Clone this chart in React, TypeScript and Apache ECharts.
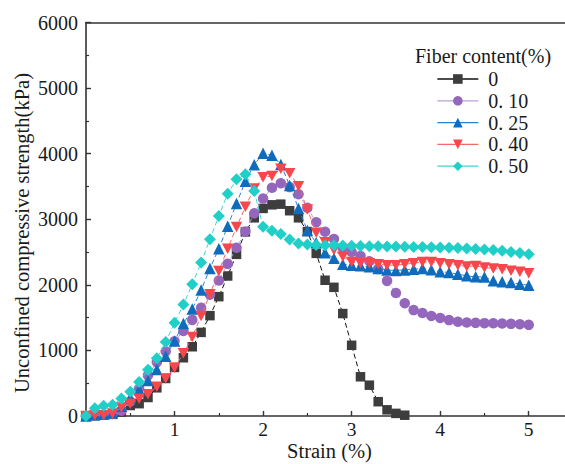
import React, { useEffect, useRef } from 'react';
import * as echarts from 'echarts';

const FONT = 'Liberation Serif';

const strain = [
  0, 0.1, 0.2, 0.3, 0.4, 0.5, 0.6, 0.7, 0.8, 0.9,
  1.0, 1.1, 1.2, 1.3, 1.4, 1.5, 1.6, 1.7, 1.8, 1.9,
  2.0, 2.1, 2.2, 2.3, 2.4, 2.5, 2.6, 2.7, 2.8, 2.9,
  3.0, 3.1, 3.2, 3.3, 3.4, 3.5, 3.6, 3.7, 3.8, 3.9,
  4.0, 4.1, 4.2, 4.3, 4.4, 4.5, 4.6, 4.7, 4.8, 4.9, 5.0,
];

const seriesNames = ['0', '0. 10', '0. 25', '0. 40', '0. 50'];

const fiber0 = [
  0, 5, 15, 25, 60, 160, 188, 282, 430, 572,
  740, 888, 1056, 1275, 1530, 1820, 2135, 2465, 2807, 3022,
  3165, 3220, 3230, 3130, 3022, 2812, 2480, 2070, 1962, 1562,
  1078, 598, 470, 218, 94, 40, 12,
];

const fiber010 = [
  0, 10, 20, 30, 80, 220, 420, 620, 820, 985,
  1140, 1295, 1465, 1650, 1850, 2065, 2320, 2565, 2815, 3090,
  3315, 3480, 3550, 3490, 3380, 3175, 2955, 2810, 2700, 2560,
  2500, 2440, 2360, 2240, 2060, 1875, 1720, 1615, 1570, 1525,
  1495, 1462, 1437, 1425, 1420, 1416, 1414, 1410, 1405, 1400, 1390,
];

const fiber025 = [
  0, 20, 30, 50, 150, 280, 400, 540, 710, 910,
  1145, 1410, 1630, 1920, 2250, 2550, 2895, 3240, 3580, 3830,
  4005, 3975, 3835, 3515, 3165, 2830, 2640, 2490, 2405, 2315,
  2300, 2290, 2275, 2250, 2225, 2220, 2228, 2238, 2250, 2230,
  2200, 2188, 2162, 2137, 2122, 2120, 2061, 2046, 2036, 2010, 1995,
];

const fiber040 = [
  0, 10, 10, 40, 130, 185, 262, 330, 445, 570,
  735, 955, 1205, 1525, 1855, 2210, 2550, 2880, 3190, 3470,
  3640, 3660, 3770, 3700, 3505, 3150, 2795, 2650, 2530, 2430,
  2350, 2330, 2330, 2315, 2300, 2300, 2315, 2330, 2350, 2350,
  2330, 2315, 2300, 2280, 2289, 2264, 2249, 2238, 2213, 2198, 2178,
];

const fiber050 = [
  0, 120, 155, 170, 265, 370, 520, 705, 880, 1130,
  1420, 1700, 2010, 2340, 2695, 3050, 3390, 3610, 3685, 3430,
  2885, 2825, 2775, 2690, 2630, 2615, 2608, 2605, 2602, 2598,
  2595, 2593, 2590, 2588, 2585, 2583, 2580, 2578, 2575, 2572,
  2570, 2565, 2560, 2555, 2548, 2540, 2530, 2518, 2500, 2485, 2467,
];

const seriesValues = [fiber0, fiber010, fiber025, fiber040, fiber050];
const markerColors = ['#3d3d3d', '#9467bd', '#0f6cbd', '#f8474c', '#20cfc7'];
const lineColors = ['#111111', '#b9a2d6', '#2a7fd0', '#f26a6a', '#3fd6d2'];
const symbols = ['rect', 'circle', 'triangle', 'path://M0,0 L10,0 L5,8.66 Z', 'diamond'];
const symbolSizes: any[] = [9.5, 10.5, 11.5, [11.5, 10.5], 12];

export default function App() {
  const ref = useRef<HTMLDivElement>(null);

  useEffect(() => {
    const chart = echarts.init(ref.current!, null, { renderer: 'svg' });

    const series = seriesValues.map((vals, si) => ({
      name: seriesNames[si],
      type: 'line',
      data: vals.map((v, i) => [strain[i], v]),
      symbol: symbols[si],
      symbolSize: symbolSizes[si],
      showSymbol: true,
      itemStyle: { color: markerColors[si] },
      lineStyle: { color: lineColors[si], width: 1, type: [5, 3] },
      z: 2 + si,
    }));

    chart.setOption({
      animation: false,
      textStyle: { fontFamily: FONT },
      title: {
        text: 'Fiber content(%)',
        left: 415,
        top: 46,
        padding: 0,
        textStyle: { fontFamily: FONT, fontSize: 20, fontWeight: 'normal', color: '#1a1a1a' },
      },
      legend: {
        orient: 'vertical',
        left: 436.7,
        top: 69,
        padding: 0,
        itemWidth: 41,
        itemHeight: 12,
        itemGap: 1.8,
        data: seriesNames,
        lineStyle: { type: 'solid', width: 1.3 },
        textStyle: {
          fontFamily: FONT,
          fontSize: 20,
          color: '#1a1a1a',
          lineHeight: 20,
          padding: [0, 0, 0, 5],
        },
      },
      grid: { left: 86, right: -8, top: 22.5, bottom: 48, outerBoundsMode: 'none', containLabel: false },
      xAxis: [
        {
          type: 'value',
          min: 0,
          max: 5.5,
          interval: 1,
          name: 'Strain (%)',
          nameLocation: 'middle',
          nameGap: 25,
          nameMoveOverlap: false,
          nameTextStyle: { fontFamily: FONT, fontSize: 20.5, color: '#1a1a1a', lineHeight: 20 },
          axisLine: { show: true, onZero: false, lineStyle: { color: '#333', width: 1.6 } },
          axisTick: { show: true, inside: true, length: 5, lineStyle: { color: '#333', width: 1.4 } },
          minorTick: { show: true, splitNumber: 2, length: 3, lineStyle: { color: '#333', width: 1.2 } },
          splitLine: { show: false },
          axisLabel: {
            fontFamily: FONT,
            fontSize: 19.5,
            lineHeight: 18,
            color: '#1a1a1a',
            margin: 4,
            formatter: (v: number) => (v === 0 || v > 5.01 ? '' : String(v)),
          },
        },
        {
          type: 'value',
          position: 'top',
          min: 0,
          max: 5.5,
          interval: 1,
          axisLine: { show: true, onZero: false, lineStyle: { color: '#333', width: 1.6 } },
          axisTick: { show: false },
          axisLabel: { show: false },
          splitLine: { show: false },
        },
      ],
      yAxis: {
        type: 'value',
        min: 0,
        max: 6000,
        interval: 1000,
        axisLine: { show: true, onZero: false, lineStyle: { color: '#333', width: 1.6 } },
        axisTick: { show: true, inside: true, length: 5, lineStyle: { color: '#333', width: 1.4 } },
        minorTick: { show: true, splitNumber: 2, length: 3, lineStyle: { color: '#333', width: 1.2 } },
        splitLine: { show: false },
        axisLabel: {
          fontFamily: FONT,
          fontSize: 20,
          color: '#1a1a1a',
          margin: 8,
          formatter: (v: number) => String(v),
        },
      },
      graphic: [
        {
          type: 'text',
          x: 22,
          y: 233,
          rotation: Math.PI / 2,
          style: {
            text: 'Unconfined compressive strength(kPa)',
            fontFamily: FONT,
            fontSize: 20.5,
            fill: '#1a1a1a',
            align: 'center',
            verticalAlign: 'middle',
          },
        },
      ],
      series,
    });

    return () => chart.dispose();
  }, []);

  return (
    <div
      ref={ref}
      style={{ position: 'fixed', left: 0, top: 0, width: 565, height: 464, background: '#fff' }}
    />
  );
}
